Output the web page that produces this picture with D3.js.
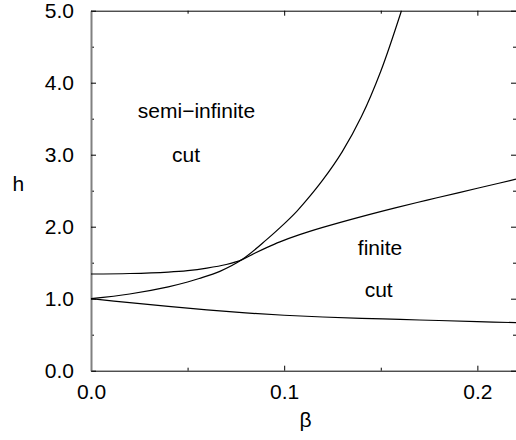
<!DOCTYPE html>
<meta charset="utf-8">
<style>
    body { margin: 0; background: #fff; }
    .curve { fill: none; stroke: #000; stroke-width: 1.2px; }
    .axis text { font: 21px "Liberation Sans", Arial, sans-serif; fill: #000; }
    .axis line { stroke: #000; stroke-width: 1px; }
    .axis path { stroke: #000; stroke-width: 1px; }
    .label { font: 21px "Liberation Sans", Arial, sans-serif; fill: #000; }
</style>
<body>
<script src="https://d3js.org/d3.v7.min.js"></script>
<script>
// data
var xTicks = [0, 0.1, 0.2];
var xMinor = [0.05, 0.15];
var yTicks = [0, 1, 2, 3, 4, 5];
var yMinor = [0.5, 1.5, 2.5, 3.5, 4.5];

// lower boundary
var lowerBeta = [0, 0.02, 0.04, 0.06, 0.08, 0.10, 0.12, 0.14, 0.16, 0.18, 0.20, 0.22];
var lowerH    = [1.0, 0.945, 0.893, 0.845, 0.803, 0.77, 0.746, 0.727, 0.712, 0.697, 0.682, 0.667];

// semi-infinite cut boundary (steep one)
var semiBeta = [0, 0.02, 0.04, 0.05, 0.056, 0.0667, 0.078, 0.0909, 0.098, 0.1064, 0.1107, 0.12, 0.13, 0.14, 0.15, 0.1607];
var semiH    = [1.0, 1.065, 1.165, 1.232, 1.28, 1.38, 1.54, 1.82, 1.99, 2.21, 2.34, 2.65, 3.04, 3.53, 4.16, 5.0];

// finite cut boundary
var finBeta = [0, 0.02, 0.04, 0.05, 0.06, 0.07, 0.078, 0.085, 0.0909, 0.0978, 0.108, 0.12, 0.14, 0.158, 0.174, 0.19, 0.205, 0.22];
var finH    = [1.343, 1.35, 1.37, 1.39, 1.425, 1.475, 1.54, 1.635, 1.71, 1.79, 1.89, 1.99, 2.14, 2.265, 2.37, 2.47, 2.565, 2.66];

var margin = {top: 10.7, right: 0, bottom: 69.3, left: 91},
    width = 516 - margin.left - margin.right,
    height = 440 - margin.top - margin.bottom;

var x = d3.scaleLinear().domain([0, 0.22]).range([0, width]);
var y = d3.scaleLinear().domain([0, 5]).range([height, 0]);

var svg = d3.select("body").append("svg")
    .attr("width", 516)
    .attr("height", 440)
  .append("g")
    .attr("transform", "translate(" + margin.left + "," + margin.top + ")");

var line = d3.line()
    .x(function(d) { return x(d[0]); })
    .y(function(d) { return y(d[1]); })
    .curve(d3.curveCatmullRom.alpha(0.5));

function zip(a, b) { return a.map(function(v, i) { return [v, b[i]]; }); }

// minor ticks
svg.append("g").attr("class", "axis")
    .attr("transform", "translate(0," + height + ")")
    .call(d3.axisBottom(x).tickValues(xMinor).tickSize(-3).tickSizeOuter(0).tickFormat(""))
    .select(".domain").remove();
svg.append("g").attr("class", "axis")
    .call(d3.axisTop(x).tickValues(xMinor).tickSize(-3).tickSizeOuter(0).tickFormat(""))
    .select(".domain").remove();
svg.append("g").attr("class", "axis")
    .call(d3.axisLeft(y).tickValues(yMinor).tickSize(-3).tickSizeOuter(0).tickFormat(""))
    .select(".domain").remove();
svg.append("g").attr("class", "axis")
    .attr("transform", "translate(" + width + ",0)")
    .call(d3.axisRight(y).tickValues(yMinor).tickSize(-3).tickSizeOuter(0).tickFormat(""))
    .select(".domain").remove();

// major axes
svg.append("g").attr("class", "axis")
    .call(d3.axisTop(x).tickValues(xTicks).tickSize(-5).tickSizeOuter(0).tickFormat(""));
svg.append("g").attr("class", "axis")
    .attr("transform", "translate(" + width + ",0)")
    .call(d3.axisRight(y).tickValues(yTicks).tickSize(-5).tickSizeOuter(0).tickFormat(""));

svg.append("g").attr("class", "axis")
    .attr("transform", "translate(0," + height + ")")
    .call(d3.axisBottom(x).tickValues(xTicks).tickSize(-5).tickSizeOuter(0)
        .tickPadding(13).tickFormat(d3.format(".1f")));

var yAxis = svg.append("g").attr("class", "axis")
    .call(d3.axisLeft(y).tickValues(yTicks).tickSize(-5).tickSizeOuter(0)
        .tickPadding(17).tickFormat(d3.format(".1f")));
yAxis.select(".domain").style("stroke", "#808080").style("stroke-width", "2px");

// curves
svg.append("path").datum(zip(lowerBeta, lowerH)).attr("class", "curve").attr("d", line);
svg.append("path").datum(zip(semiBeta, semiH)).attr("class", "curve").attr("d", line);
svg.append("path").datum(zip(finBeta, finH)).attr("class", "curve").attr("d", line);

// region labels
svg.append("text").attr("class", "label")
    .attr("x", x(0.0546)).attr("y", y(3.505))
    .style("text-anchor", "middle").text("semi\u2212infinite");
svg.append("text").attr("class", "label")
    .attr("x", x(0.0492)).attr("y", y(2.903))
    .style("text-anchor", "middle").text("cut");
svg.append("text").attr("class", "label")
    .attr("x", x(0.1496)).attr("y", y(1.607))
    .style("text-anchor", "middle").text("finite");
svg.append("text").attr("class", "label")
    .attr("x", x(0.1489)).attr("y", y(1.02))
    .style("text-anchor", "middle").text("cut");

// axis labels
svg.append("text").attr("class", "label")
    .attr("x", width / 2 + 2)
    .attr("y", height + 56)
    .style("text-anchor", "middle")
    .text("\u03b2");
svg.append("text").attr("class", "label")
    .attr("x", 18.3 - margin.left)
    .attr("y", 180)
    .style("text-anchor", "middle")
    .text("h");
</script>
</body>
